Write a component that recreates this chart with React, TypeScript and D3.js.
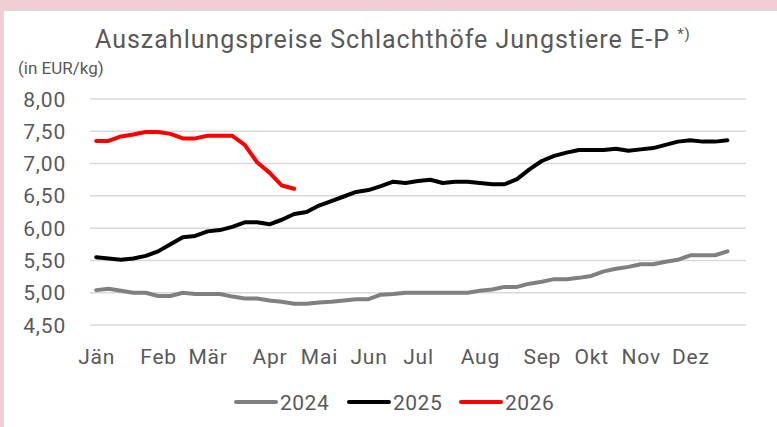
import React, { useEffect, useRef } from 'react';
import * as d3 from 'd3';

// weeks 1..53 on the category axis
const weeks: string[] = d3.range(1, 54).map(w => `KW${w}`);

// month label -> week index it is printed under
const monthLabels: string[] = ['Jän', 'Feb', 'Mär', 'Apr', 'Mai', 'Jun', 'Jul', 'Aug', 'Sep', 'Okt', 'Nov', 'Dez'];
const monthWeekIdx: number[] = [0, 5, 9, 14, 18, 22, 26, 31, 36, 40, 44, 48];

const yTicks: number[] = [4.5, 5.0, 5.5, 6.0, 6.5, 7.0, 7.5, 8.0];

const values2024: number[] = [
    5.04, 5.06, 5.03, 5.00, 5.00, 4.95, 4.95, 5.00, 4.98, 4.98,
    4.98, 4.94, 4.91, 4.91, 4.88, 4.86, 4.83, 4.83, 4.85, 4.86,
    4.88, 4.90, 4.90, 4.97, 4.98, 5.00, 5.00, 5.00, 5.00, 5.00,
    5.00, 5.03, 5.05, 5.09, 5.09, 5.14, 5.17, 5.21, 5.21, 5.23,
    5.26, 5.33, 5.37, 5.40, 5.44, 5.44, 5.48, 5.51, 5.58, 5.58,
    5.58, 5.64,
];

const values2025: number[] = [
    5.55, 5.53, 5.51, 5.53, 5.57, 5.64, 5.75, 5.86, 5.88, 5.95,
    5.97, 6.02, 6.09, 6.09, 6.06, 6.13, 6.22, 6.25, 6.35, 6.42,
    6.49, 6.56, 6.59, 6.65, 6.72, 6.70, 6.73, 6.75, 6.70, 6.72,
    6.72, 6.70, 6.68, 6.68, 6.76, 6.91, 7.04, 7.12, 7.17, 7.21,
    7.21, 7.21, 7.23, 7.20, 7.22, 7.24, 7.29, 7.34, 7.36, 7.34,
    7.34, 7.36,
];

const values2026: number[] = [
    7.35, 7.35, 7.42, 7.45, 7.49, 7.49, 7.46, 7.39, 7.39, 7.43,
    7.43, 7.43, 7.29, 7.02, 6.86, 6.66, 6.61,
];

const seriesNames: string[] = ['2024', '2025', '2026'];
const seriesColors: string[] = ['#808080', '#000000', '#ff0000'];

const App: React.FC = () => {
    const svgRef = useRef<SVGSVGElement | null>(null);

    useEffect(() => {
        const svg = d3.select(svgRef.current);
        svg.selectAll("*").remove();

        const width = 777;
        const height = 427;
        const font = "Roboto, 'DejaVu Sans', sans-serif";
        const textColor = '#595959';

        // frame
        svg.append("rect").attr("width", width).attr("height", height).attr("fill", "#f1cdd5");
        svg.append("rect")
            .attr("x", 3.5).attr("y", 10.5)
            .attr("width", width - 3).attr("height", height - 10)
            .attr("fill", "#fff").attr("stroke", "#d9d9d9");

        const xScale = d3.scaleBand<string>()
            .domain(weeks)
            .range([90, 746]);
        const cx = (i: number) => xScale(weeks[i])! + xScale.bandwidth() / 2;

        const yScale = d3.scaleLinear()
            .domain([4.5, 8.0])
            .range([325, 99]);

        // gridlines
        svg.append("g")
            .selectAll("line")
            .data(yTicks)
            .enter()
            .append("line")
            .attr("x1", 90).attr("x2", 746)
            .attr("y1", d => yScale(d)).attr("y2", d => yScale(d))
            .attr("stroke", "#d9d9d9").attr("stroke-width", 1.5);

        // y labels
        svg.append("g")
            .selectAll("text")
            .data(yTicks)
            .enter()
            .append("text")
            .attr("x", 66)
            .attr("y", d => yScale(d))
            .attr("dy", "0.36em")
            .attr("text-anchor", "end")
            .attr("font-family", font).attr("font-size", 21)
            .attr("letter-spacing", 0.8)
            .attr("fill", textColor)
            .text(d => d.toFixed(2).replace('.', ','));

        // month labels
        svg.append("g")
            .selectAll("text")
            .data(monthLabels)
            .enter()
            .append("text")
            .attr("x", (d, i) => cx(monthWeekIdx[i]) + 0.5)
            .attr("y", 364)
            .attr("text-anchor", "middle")
            .attr("font-family", font).attr("font-size", 21)
            .attr("letter-spacing", 0.8)
            .attr("fill", textColor)
            .text(d => d);

        // lines
        const line = d3.line<number>()
            .x((d, i) => cx(i))
            .y(d => yScale(d));

        [values2024, values2025, values2026].forEach((vals, k) => {
            svg.append("path")
                .datum(vals)
                .attr("d", line)
                .attr("fill", "none")
                .attr("stroke", seriesColors[k])
                .attr("stroke-width", 4)
                .attr("stroke-linejoin", "round")
                .attr("stroke-linecap", "round");
        });

        // title
        const title = svg.append("text")
            .attr("x", 95).attr("y", 48)
            .attr("font-family", font).attr("font-size", 25)
            .attr("letter-spacing", 1.0)
            .attr("fill", textColor);
        title.append("tspan").text("Auszahlungspreise Schlachthöfe Jungstiere E-P ");
        title.append("tspan").attr("font-size", 15).attr("dy", -9).text("*)");

        svg.append("text")
            .attr("x", 18).attr("y", 74)
            .attr("font-family", font).attr("font-size", 17)
            .attr("fill", textColor)
            .text("(in EUR/kg)");

        // legend
        const legendX = [236, 349, 461];
        const legend = svg.append("g");
        seriesNames.forEach((name, k) => {
            legend.append("line")
                .attr("x1", legendX[k]).attr("x2", legendX[k] + 40)
                .attr("y1", 402).attr("y2", 402)
                .attr("stroke", seriesColors[k]).attr("stroke-width", 4)
                .attr("stroke-linecap", "round");
            legend.append("text")
                .attr("x", legendX[k] + 44).attr("y", 402)
                .attr("dy", "0.36em")
                .attr("font-family", font).attr("font-size", 21)
                .attr("letter-spacing", 0.5)
                .attr("fill", textColor)
                .text(name);
        });
    }, []);

    return (
        <svg ref={svgRef} width={777} height={427}
            style={{ position: 'absolute', left: 0, top: 0, display: 'block' }} />
    );
};

export default App;
